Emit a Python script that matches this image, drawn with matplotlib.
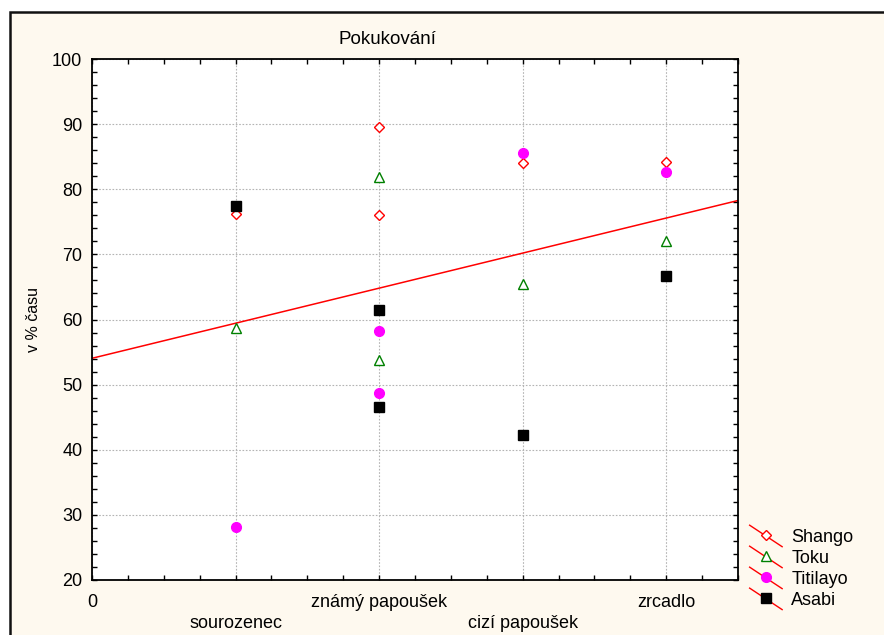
import numpy as np
import matplotlib
matplotlib.use("Agg")
import matplotlib.pyplot as plt
from matplotlib.lines import Line2D
from matplotlib.patches import Rectangle
from matplotlib.legend_handler import HandlerBase
from matplotlib.ticker import MultipleLocator

plt.rcParams['font.family'] = ['Liberation Sans', 'DejaVu Sans']

# data
categories = ['sourozenec', 'známý papoušek', 'cizí papoušek', 'zrcadlo']
cat_pos = [1, 2, 3, 4]

shango_x = [1, 2, 2, 3, 4]
shango_y = [76.2, 89.6, 76.0, 84.0, 84.2]
toku_x = [1, 2, 2, 3, 4]
toku_y = [58.7, 81.9, 53.8, 65.4, 72.0]
titilayo_x = [1, 2, 2, 3, 4]
titilayo_y = [28.1, 58.2, 48.7, 85.6, 82.6]
asabi_x = [1, 2, 2, 3, 4]
asabi_y = [77.5, 61.4, 46.5, 42.2, 66.7]

cream = '#fef9ef'

fig = plt.figure(figsize=(8.84, 6.35), dpi=100, facecolor='white')
# outer frame of the graph window
fig.patches.append(Rectangle((9.5 / 884, -0.05), 1.1, (635 - 12) / 635 + 0.05,
                             transform=fig.transFigure, facecolor=cream,
                             edgecolor='#111111', lw=1.8, zorder=-10))

ax = fig.add_axes([92 / 884, 1 - 580 / 635, (738 - 92) / 884, (580 - 59) / 635])
ax.set_facecolor('white')

ax.plot(shango_x, shango_y, ls='none', marker='D', ms=4.8, mfc='white', mec='red', mew=1, label='Shango', zorder=3)
ax.plot(toku_x, toku_y, ls='none', marker='^', ms=7.5, mfc='white', mec='green', mew=1, label='Toku', zorder=3)
ax.plot(titilayo_x, titilayo_y, ls='none', marker='o', ms=7, mfc='magenta', mec='magenta', label='Titilayo', zorder=3)
ax.plot(asabi_x, asabi_y, ls='none', marker='s', ms=6.8, mfc='black', mec='black', label='Asabi', zorder=3)

# linear fit through all points
all_x = np.array(shango_x + toku_x + titilayo_x + asabi_x, dtype=float)
all_y = np.array(shango_y + toku_y + titilayo_y + asabi_y)
k, q = np.polyfit(all_x, all_y, 1)
xx = np.array([0, 4.5])
ax.plot(xx, k * xx + q, color='red', lw=1.1, zorder=2)

ax.set_xlim(0, 4.5)
ax.set_ylim(20, 100)
ax.set_xticks([0] + cat_pos)
ax.set_xticklabels(['0', '\n' + categories[0], categories[1], '\n' + categories[2], categories[3]],
                   fontsize=13, linespacing=1.35)
ax.xaxis.set_minor_locator(MultipleLocator(0.25))
ax.set_yticks(np.arange(20, 101, 10))
ax.yaxis.set_minor_locator(MultipleLocator(2))
ax.tick_params(axis='both', which='both', direction='in', length=3.5, width=1,
               top=True, right=True, labelsize=13)
ax.tick_params(axis='x', pad=10)
ax.tick_params(axis='y', pad=7)
for s in ax.spines.values():
    s.set_linewidth(1.3)

ax.grid(True, which='major', color='#b4b4b4', ls=(0, (1.5, 1.5)), lw=0.8)
ax.set_axisbelow(True)

ax.set_title('Pokukování', fontsize=13.5, pad=11, x=0.457)
ax.set_ylabel('v % času', fontsize=11.5, labelpad=8)


class DiagHandler(HandlerBase):
    def create_artists(self, legend, orig_handle, xdescent, ydescent, width, height, fontsize, trans):
        x0, y0 = -xdescent, -ydescent
        ln = Line2D([x0, x0 + width], [y0 + height * 1.3, y0 - height * 0.4], color='red', lw=1)
        mk = Line2D([x0 + width / 2], [y0 + height / 2], ls='none',
                    marker=orig_handle.get_marker(), ms=orig_handle.get_markersize(),
                    mfc=orig_handle.get_markerfacecolor(), mec=orig_handle.get_markeredgecolor(),
                    mew=orig_handle.get_markeredgewidth())
        ln.set_transform(trans)
        mk.set_transform(trans)
        return [ln, mk]


h, l = ax.get_legend_handles_labels()
fig.legend(h, l, loc='upper left', bbox_to_anchor=(737 / 884, 1 - 516 / 635),
           frameon=False, fontsize=13, handler_map={Line2D: DiagHandler()},
           handlelength=1.8, handletextpad=0.5, labelspacing=0.22, borderpad=0.2)

fig.savefig('out.png', dpi=100, facecolor=fig.get_facecolor())
